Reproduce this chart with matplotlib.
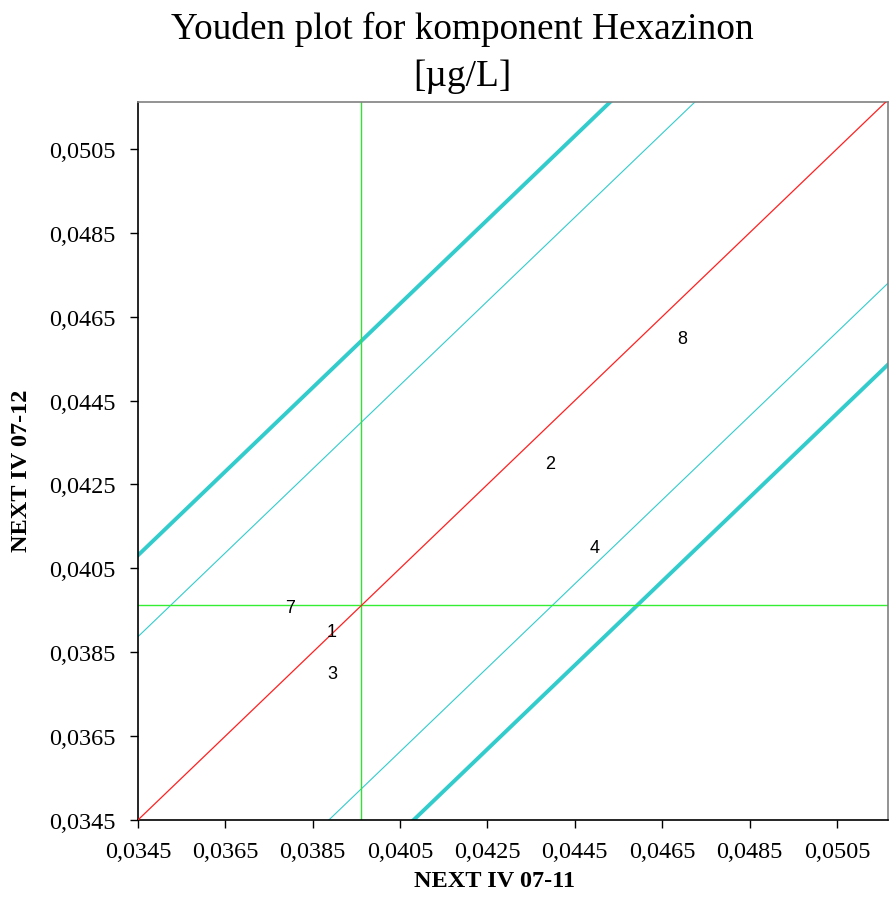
import matplotlib.pyplot as plt
import numpy as np

# data
labs = ['1', '2', '3', '4', '7', '8']
x_vals = [0.03893, 0.04394, 0.03896, 0.04496, 0.03799, 0.04696]
y_vals = [0.03899, 0.04300, 0.03800, 0.04100, 0.03956, 0.04599]

center_x = 0.0396
center_y = 0.03962
inner_off = 0.00437   # thin cyan lines
outer_off = 0.00631   # thick cyan lines

ticks = [0.0345, 0.0365, 0.0385, 0.0405, 0.0425, 0.0445, 0.0465, 0.0485, 0.0505]
lo, hi = 0.0345, 0.05167

fig = plt.figure(figsize=(8.89, 9.12), dpi=100)
ax = fig.add_axes([0.1552, 0.0998, 0.8437, 0.7873])

xx = np.array([lo - 0.01, hi + 0.01])
ax.plot(xx, xx, color='#ff2020', lw=0.9, zorder=3)
ax.plot(xx, xx + inner_off, color='#33cccc', lw=0.8)
ax.plot(xx, xx - inner_off, color='#33cccc', lw=0.8)
ax.plot(xx, xx + outer_off, color='#33cccc', lw=2.8)
ax.plot(xx, xx - outer_off, color='#33cccc', lw=2.8)
ax.axvline(center_x, color='#33e033', lw=1.0)
ax.axhline(center_y, color='#33ee33', lw=1.0)

for lb, xv, yv in zip(labs, x_vals, y_vals):
    ax.text(xv, yv, lb, ha='center', va='center', fontsize=13,
            family='Liberation Sans', zorder=5)

ax.set_xlim(lo, hi)
ax.set_ylim(lo, 0.05162)
ax.set_xticks(ticks)
ax.set_yticks(ticks)
tl = [('%.4f' % t).replace('.', ',') for t in ticks]
ax.set_xticklabels(tl, family='Liberation Serif', fontsize=17.5)
ax.set_yticklabels(tl, family='Liberation Serif', fontsize=17.5)
ax.tick_params(direction='out', length=6, width=1, pad=9)
ax.tick_params(axis='y', pad=10)

for s in ['left', 'bottom']:
    ax.spines[s].set_color('black')
    ax.spines[s].set_linewidth(1.2)
for s in ['top', 'right']:
    ax.spines[s].set_color('#808080')
    ax.spines[s].set_linewidth(1.2)

ax.set_xlabel('NEXT IV 07-11', family='Liberation Serif', fontweight='bold', fontsize=17.5, va='center')
ax.set_ylabel('NEXT IV 07-12', family='Liberation Serif', fontweight='bold', fontsize=17.5, va='center')
ax.xaxis.set_label_coords(0.476, -0.0836)
ax.yaxis.set_label_coords(-0.155, 0.487)

fig.text(0.52, 0.968, 'Youden plot for komponent Hexazinon', ha='center', va='center',
         family='Liberation Serif', fontsize=26.8)
fig.text(0.52, 0.916, '[\u00b5g/L]', ha='center', va='center',
         family='Liberation Serif', fontsize=26.8)

fig.savefig('out.png', dpi=100)
